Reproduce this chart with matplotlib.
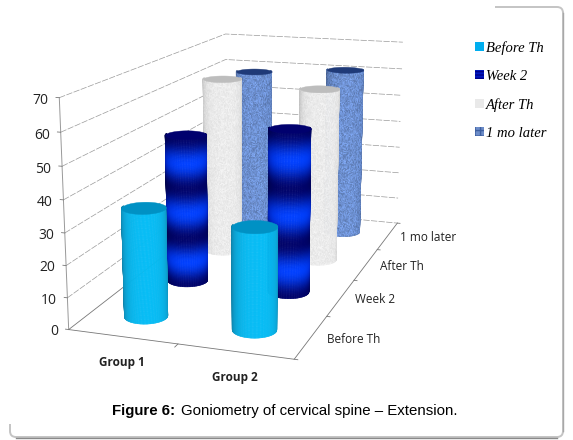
import numpy as np
import matplotlib
matplotlib.use('Agg')
import matplotlib.pyplot as plt
from matplotlib.patches import FancyBboxPatch, Patch
from matplotlib.lines import Line2D
from matplotlib.transforms import IdentityTransform
from mpl_toolkits.mplot3d import proj3d
from mpl_toolkits.mplot3d.art3d import Poly3DCollection

# data
groups = ['Group 1', 'Group 2']
series = ['Before Th', 'Week 2', 'After Th', '1 mo later']
group1 = [34.5, 49.5, 62, 59]
group2 = [32, 54, 60.5, 61.5]
z_ticks = [0, 10, 20, 30, 40, 50, 60, 70]

# camera fitted to the axis corners of the picture
elev, azim, focal = 14.254, -71.534, 0.4501
scale, shift_x, shift_y = 2677.4, 254.2, 270.0
R = 0.19


def fract_noise(n, m):
    # speckle for the cylinder textures
    i, j = np.meshgrid(np.arange(n), np.arange(m), indexing='ij')
    return np.sin(i * 12.9898 + j * 78.233) * 43758.5453 % 1.0


def side_colors(name, theta, zz):
    t = (theta - np.radians(azim)) / (np.pi / 2)
    tt, hh = np.meshgrid(t, (zz - zz[0]) / (zz[-1] - zz[0]), indexing='ij')
    tt = np.clip(tt - 0.1, -1, 1)
    sh = 1 - 0.30 * np.abs(tt) ** 2.5
    rgb = np.zeros(tt.shape + (4,))
    rgb[..., 3] = 1
    if name == 'Before Th':
        rgb[..., 0] = 0.02 + 0.04 * np.abs(tt)
        rgb[..., 1] = 0.74 * sh
        rgb[..., 2] = 0.96 * sh
    elif name == 'Week 2':
        band = 0.5 - 0.5 * np.cos(hh * 6 * np.pi)
        rgb[..., 0] = 0.0
        rgb[..., 1] = 0.01 + 0.24 * band * sh ** 2
        rgb[..., 2] = (0.42 + 0.58 * band) * sh
    elif name == 'After Th':
        nn = fract_noise(*tt.shape)
        g = (0.97 - 0.08 * nn) * (1 - 0.16 * np.abs(tt) ** 3)
        rgb[..., 0] = g
        rgb[..., 1] = g
        rgb[..., 2] = g
    else:
        nn = fract_noise(*tt.shape)
        sh = 1 - 0.25 * np.abs(tt) ** 3
        k = 0.80 + 0.40 * nn
        rgb[..., 0] = np.clip(0.43 * k * sh, 0, 1)
        rgb[..., 1] = np.clip(0.57 * k * sh, 0, 1)
        rgb[..., 2] = np.clip(0.83 * k * sh, 0, 1)
    return rgb


cap_colors = {'Before Th': '#0091C4', 'Week 2': '#00006E',
              'After Th': '#BDBDBD', '1 mo later': '#1F3A78'}

fig = plt.figure(figsize=(5.73, 4.4), dpi=100)
ax = fig.add_subplot(projection='3d', computed_zorder=False)
ax.set_xlim(0, 2, view_margin=0)
ax.set_ylim(0, 4, view_margin=0)
ax.set_zlim(0, 70, view_margin=0)
ax.view_init(elev=elev, azim=azim)
ax.set_proj_type('persp', focal_length=focal)
ax.set_box_aspect((0.9982, 1.9817, 1.0))
ax.set_axis_off()

# place the axes so data lands on the pixels of the reference
xl = ax.viewLim.intervalx
yl = ax.viewLim.intervaly
left = shift_x + xl[0] * scale
bottom = shift_y + yl[0] * scale
ax.set_position([left / 573, bottom / 440, (xl[1] - xl[0]) * scale / 573, (yl[1] - yl[0]) * scale / 440])


def label(x, y, z, s, **kw):
    # text at a 3d position, kept as plain 2d text
    u, v, _ = proj3d.proj_transform(x, y, z, ax.get_proj())
    ax.text2D(u, v, s, va='center', family='Open Sans', color='#222222', **kw)


# walls and floor
grid = dict(color='#999999', lw=0.5, ls=(0, (9, 2)), zorder=1)
for v in z_ticks[1:]:
    ax.plot([0, 0, 2], [0, 4, 4], [v, v, v], **grid)
ax.plot([0, 0, 2, 2], [4, 0, 0, 4], [0, 0, 0, 0], color='#777777', lw=0.6, zorder=1)
ax.plot([0, 2], [4, 4], [0, 0], **grid)
ax.plot([0, 0], [0, 0], [0, 70], color='#999999', lw=0.7, zorder=1)
for v in z_ticks:
    ax.plot([0, -0.03], [0, 0], [v, v], color='#777777', lw=0.6, zorder=1)
    label(-0.10, 0, v - 1.1, str(v), ha='right', fontsize=10)
ax.plot([1, 1], [0, -0.07], [0, 0], color='#777777', lw=0.6, zorder=1)
for k in range(5):
    ax.plot([2, 2.03], [k, k], [0, 0], color='#777777', lw=0.6, zorder=1)

# category labels
for gx, g in zip([0.72, 1.665], groups):
    label(gx, -0.49, 0, g, ha='center', fontsize=8.5, fontweight='bold')
for k, s in enumerate(series):
    label(2.14, k + 0.485, 0, s, ha='left', fontsize=8.5)

# cylinders, back row first
order = 10
for k in [3, 2, 1, 0]:
    for gx, vals in [(0.5, group1), (1.5, group2)]:
        name = series[k]
        h = vals[k]
        cy = k + 0.5
        theta = np.radians(azim) + np.linspace(-np.pi / 2 - 0.35, np.pi / 2 + 0.35, 110)
        zz = np.linspace(0, h, int(h * 2.4))
        TH, ZZ = np.meshgrid(theta, zz, indexing='ij')
        X = gx + R * np.cos(TH)
        Y = cy + R * np.sin(TH)
        ax.plot_surface(X, Y, ZZ, facecolors=side_colors(name, theta, zz), rstride=1, cstride=1,
                        shade=False, linewidth=0.3, antialiased=True, zorder=order)
        a = np.linspace(0, 2 * np.pi, 80)
        cap = list(zip(gx + R * np.cos(a), cy + R * np.sin(a), np.full_like(a, h)))
        ax.add_collection3d(Poly3DCollection([cap], facecolors=cap_colors[name], edgecolors=cap_colors[name],
                                             linewidths=0.3, zorder=order + 1))
        order += 2

# legend
handles = [Patch(facecolor='#00AEEF'),
           Patch(facecolor='#0018C0', hatch='-----', edgecolor='#00008A', lw=0),
           Patch(facecolor='#E9E9E9'),
           Patch(facecolor='#6C8CC8', hatch='+++', edgecolor='#3E5FA0', lw=0)]
fig.legend(handles, series, loc='upper left', bbox_to_anchor=(475 / 573, 1 - 41 / 440), frameon=False,
           prop=dict(family='Liberation Serif', style='italic', size=10.5), handlelength=0.62, handleheight=0.62,
           handletextpad=0.15, labelspacing=1.03, borderpad=0, borderaxespad=0)

# frame and caption
fig.add_artist(FancyBboxPatch((10, 3), 553, 430, boxstyle='round,pad=0,rounding_size=6', fc='none',
                              ec='#c4c4c4', lw=1.4, transform=IdentityTransform(), zorder=-1))
fig.add_artist(Line2D([16, 557], [2.5, 2.5], color='#8a8a8a', lw=1.0, transform=IdentityTransform()))
fig.add_artist(Line2D([563, 563], [9, 427], color='#a8a8a8', lw=1.0, transform=IdentityTransform()))
fig.text(112 / 573, 1 - 411 / 440, 'Figure 6:', fontsize=10.8, fontweight='bold', family='Liberation Sans',
         va='center', ha='left')
fig.text(181 / 573, 1 - 411 / 440, 'Goniometry of cervical spine – Extension.', fontsize=10.8,
         family='Liberation Sans', va='center', ha='left')

fig.savefig('out.png', dpi=100)
